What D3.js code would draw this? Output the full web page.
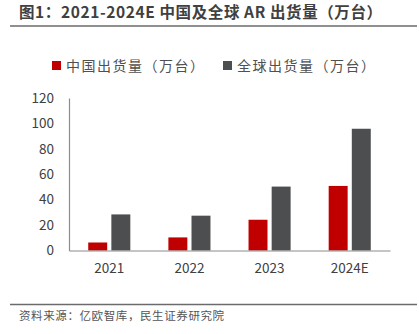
<!DOCTYPE html>
<html>
<head>
<meta charset="utf-8">
<script src="https://cdn.jsdelivr.net/npm/d3@7"></script>
<style>
  body { margin: 0; background: #fff; }
  svg { display: block; }
</style>
</head>
<body>
<script>
// shipments, 10k units
const years = ["2021", "2022", "2023", "2024E"];
const china = [6.3, 10.3, 24.2, 50.8];
const world = [28.4, 27.4, 50.3, 95.8];
const yTicks = [0, 20, 40, 60, 80, 100, 120];
const seriesNames = ["中国出货量（万台）", "全球出货量（万台）"];
const colors = ["#c00000", "#4d4e50"];

const W = 419, H = 334;
const font = "'Noto Sans CJK SC', 'Noto Sans', sans-serif";
const svg = d3.select("body").append("svg")
    .attr("width", W).attr("height", H)
    .attr("font-family", font);

// title + rules
svg.append("text").attr("x", 19).attr("y", 18)
    .attr("font-size", 15.5).attr("font-weight", "bold").attr("fill", "#404040")
    .attr("letter-spacing", 0.6)
    .text("图1：2021-2024E 中国及全球 AR 出货量（万台）");
svg.append("line").attr("x1", 10).attr("x2", 417).attr("y1", 26).attr("y2", 26)
    .attr("stroke", "#6b6b6b").attr("stroke-width", 1.5);
svg.append("line").attr("x1", 10).attr("x2", 417).attr("y1", 304.5).attr("y2", 304.5)
    .attr("stroke", "#6b6b6b").attr("stroke-width", 1.5);
svg.append("text").attr("x", 19).attr("y", 320)
    .attr("font-size", 11.5).attr("fill", "#555").attr("letter-spacing", 0.6)
    .text("资料来源：亿欧智库，民生证券研究院");

// legend
const legX = [52, 223];
seriesNames.forEach((n, i) => {
  svg.append("rect").attr("x", legX[i]).attr("y", 61).attr("width", 9).attr("height", 9)
      .attr("fill", colors[i]);
  svg.append("text").attr("x", legX[i] + 14).attr("y", 70.5)
      .attr("font-size", 14).attr("fill", "#505050").attr("letter-spacing", 1.5).text(n);
});

// scales
const x0 = d3.scaleBand().domain(years).range([69, 390]).paddingInner(0.475).paddingOuter(0.24);
const y = d3.scaleLinear().domain([0, 120]).range([250.5, 98]);
const x1 = d3.scaleBand().domain([0, 1]).range([0, x0.bandwidth()]).paddingInner(0.18);

const g = svg.append("g");
years.forEach((yr, i) => {
  [china[i], world[i]].forEach((v, k) => {
    g.append("rect")
        .attr("x", x0(yr) + x1(k))
        .attr("y", y(v))
        .attr("width", x1.bandwidth())
        .attr("height", y(0) - y(v))
        .attr("fill", colors[k]);
  });
});

// axes
const yAxis = svg.append("g").attr("transform", "translate(69,0)")
    .call(d3.axisLeft(y).tickValues(yTicks).tickSize(0).tickPadding(15));
yAxis.select(".domain").attr("stroke", "#8c8c8c").attr("stroke-width", 1.2);
yAxis.selectAll("text").attr("font-size", 13.5).attr("fill", "#404040").attr("font-family", font);

const xAxis = svg.append("g").attr("transform", `translate(0,${y(0)})`)
    .call(d3.axisBottom(x0).tickSize(0).tickPadding(13).tickSizeOuter(0));
xAxis.select(".domain").attr("stroke", "#8c8c8c").attr("stroke-width", 1.2);
xAxis.selectAll("text").attr("font-size", 13.5).attr("fill", "#404040").attr("font-family", font);
</script>
</body>
</html>
